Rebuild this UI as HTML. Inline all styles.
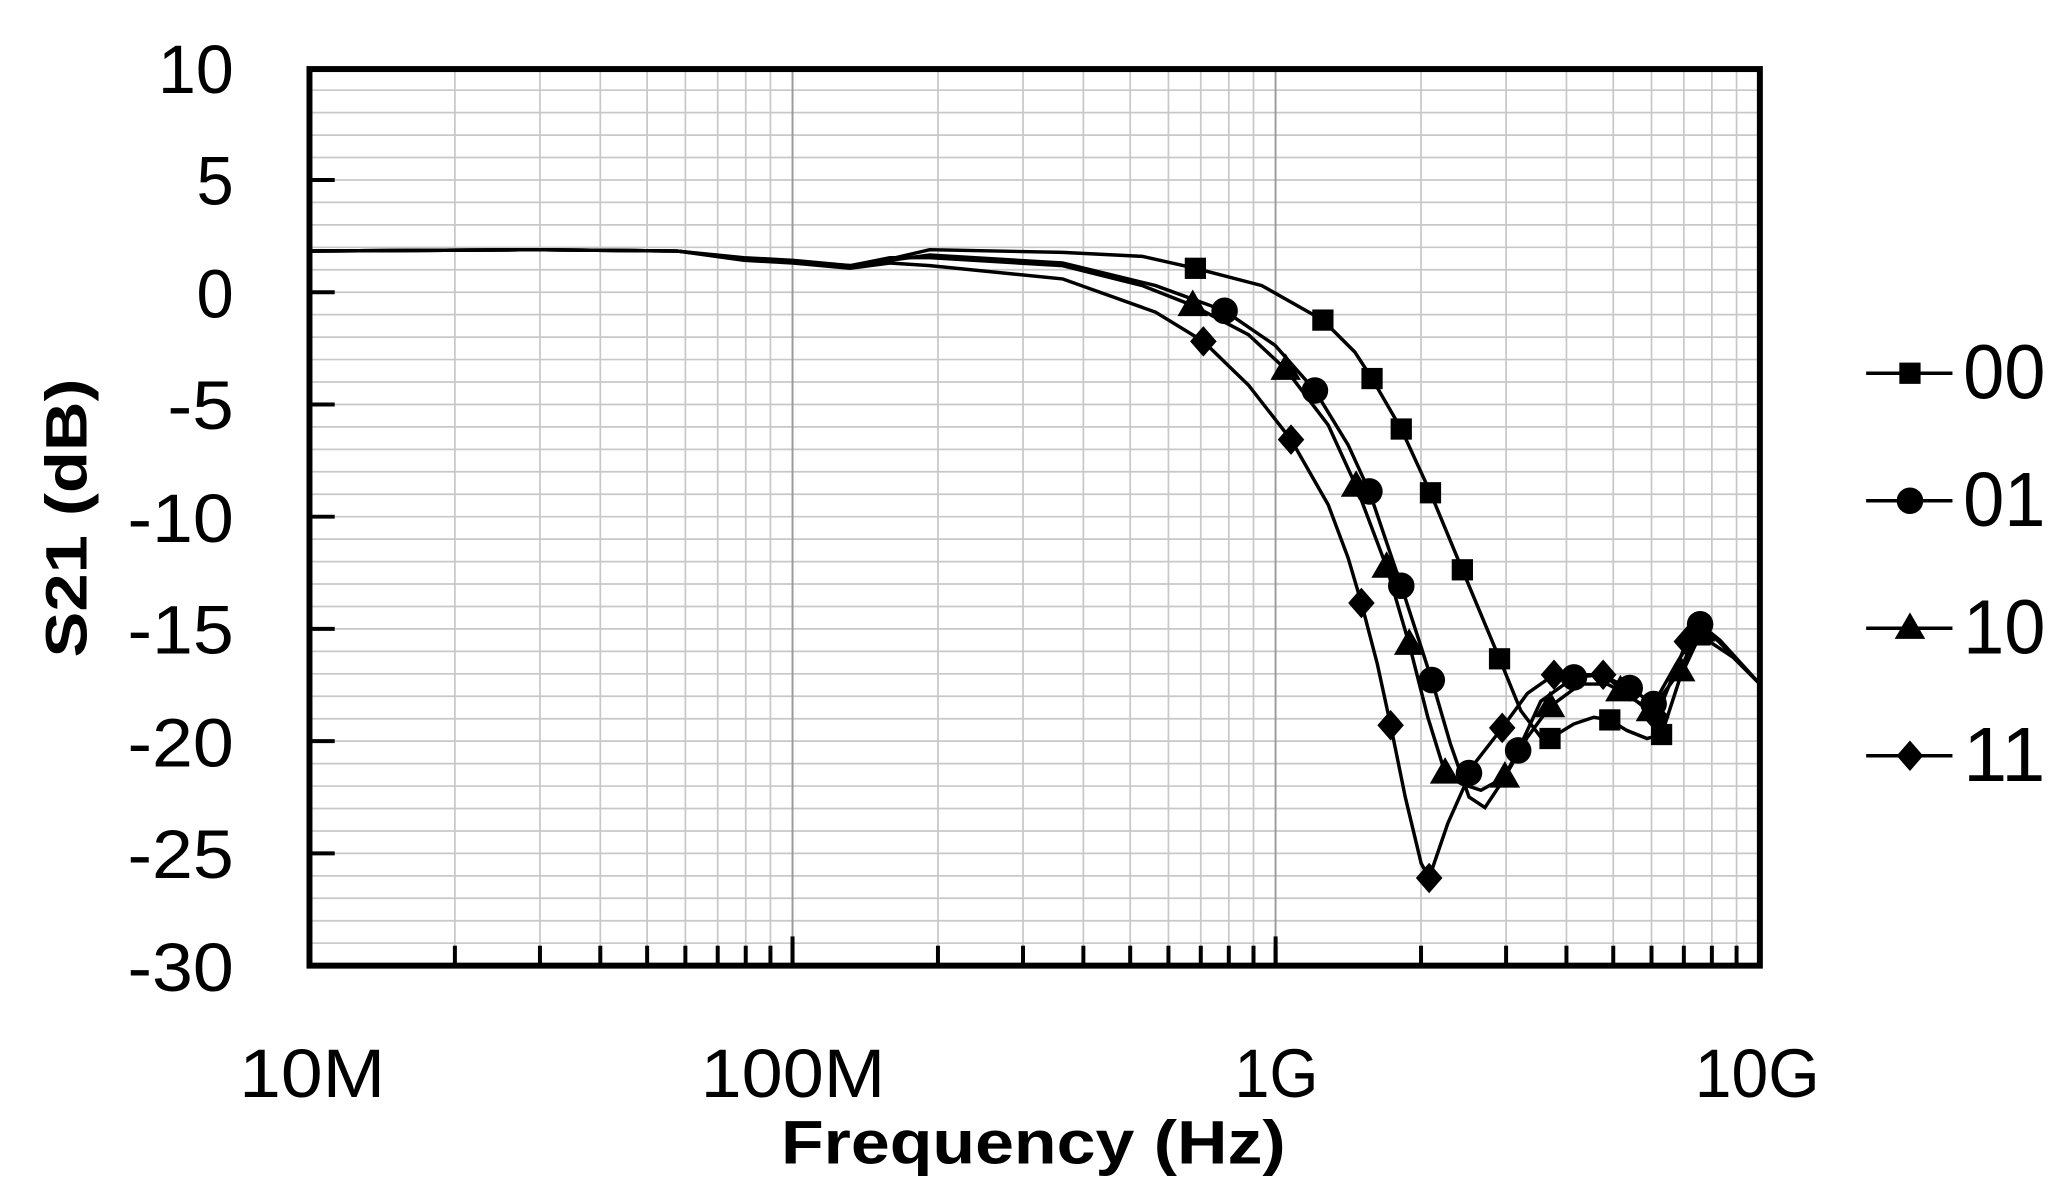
<!DOCTYPE html>
<html><head><meta charset="utf-8"><style>html,body{margin:0;padding:0;background:#fff;}svg{display:block}</style></head>
<body>
<svg width="2072" height="1201" viewBox="0 0 1560 904.2" preserveAspectRatio="none" xmlns="http://www.w3.org/2000/svg" font-family="Liberation Sans, sans-serif">
<defs>
<g id="sq"><rect x="-8" y="-8" width="16" height="16" fill="#000"/></g>
<g id="ci"><circle r="10" fill="#000"/></g>
<g id="tr"><polygon points="0,-12 11.5,8 -11.5,8" fill="#000"/></g>
<g id="di"><polygon points="0,-11.5 10,0 0,11.5 -10,0" fill="#000"/></g>
</defs>
<g id="grid" stroke="#c8c8c8" stroke-width="1.3"></g>
<g id="ticks" stroke="#000" stroke-width="3"></g>
<rect x="233" y="52" width="1092" height="675" fill="none" stroke="#000" stroke-width="4.5"/>
<g font-size="52" text-anchor="end" fill="#000" lengthAdjust="spacingAndGlyphs">
<text x="176" y="70" textLength="57" lengthAdjust="spacingAndGlyphs">10</text>
<text x="176" y="154" textLength="28" lengthAdjust="spacingAndGlyphs">5</text>
<text x="176" y="239" textLength="28" lengthAdjust="spacingAndGlyphs">0</text>
<text x="176" y="323" textLength="50" lengthAdjust="spacingAndGlyphs">-5</text>
<text x="176" y="408" textLength="80" lengthAdjust="spacingAndGlyphs">-10</text>
<text x="176" y="492" textLength="80" lengthAdjust="spacingAndGlyphs">-15</text>
<text x="176" y="577" textLength="80" lengthAdjust="spacingAndGlyphs">-20</text>
<text x="176" y="661" textLength="80" lengthAdjust="spacingAndGlyphs">-25</text>
<text x="176" y="746" textLength="80" lengthAdjust="spacingAndGlyphs">-30</text>
</g>
<g font-size="52" text-anchor="middle" fill="#000">
<text x="235" y="826" textLength="110" lengthAdjust="spacingAndGlyphs">10M</text>
<text x="597" y="826" textLength="139" lengthAdjust="spacingAndGlyphs">100M</text>
<text x="961" y="826" textLength="63" lengthAdjust="spacingAndGlyphs">1G</text>
<text x="1323" y="826" textLength="94" lengthAdjust="spacingAndGlyphs">10G</text>
</g>
<text x="778" y="876" font-size="46" font-weight="bold" text-anchor="middle" textLength="380" lengthAdjust="spacingAndGlyphs">Frequency (Hz)</text>
<text transform="translate(65,390) rotate(-90)" font-size="44" font-weight="bold" text-anchor="middle" textLength="210" lengthAdjust="spacingAndGlyphs">S21 (dB)</text>
<g fill="none" stroke="#000" stroke-width="2.6">
<polyline points="233,189 400,188 510,189 560,194 597,196 640,200 670,195 700,188 800,190 860,193 900,202 950,215 996,241 1020,265 1033,285 1055,323 1077,371 1101,429 1129,496 1145,535 1160,555 1167,556 1185,545 1200,540 1212,542 1225,550 1240,556 1251,553 1265,510 1280,478 1290,485 1305,495 1325,515"/>
<polyline points="233,189 400,188 510,189 560,195 597,197 640,201 670,196 700,192 800,198 870,215 922,234 960,260 990,294 1015,335 1031,370 1055,441 1078,512 1092,560 1106,600 1118,608 1130,590 1143,565 1160,528 1185,510 1205,508 1227,518 1245,530 1262,500 1280,470 1295,482 1325,515"/>
<polyline points="233,189 400,188 510,189 560,195 597,197 640,200 670,194 700,194 800,200 860,215 898,230 940,252 968,278 1000,320 1021,366 1044,427 1061,485 1075,540 1088,582 1100,590 1115,595 1133,585 1150,555 1167,532 1190,515 1210,515 1220,520 1243,535 1265,505 1280,470 1295,484 1325,515"/>
<polyline points="233,189 400,188 510,189 560,196 597,198 640,202 670,198 700,200 800,210 870,235 906,257 940,290 972,331 1000,380 1015,420 1025,454 1037,500 1047,546 1058,600 1070,650 1076,661 1090,620 1110,575 1131,548 1150,522 1170,508 1190,508 1207,508 1225,522 1247,540 1270,483 1280,472"/>
</g>
<g id="m"></g>
<g stroke="#000" stroke-width="2.6">
<line x1="1405" y1="281" x2="1470" y2="281"/><line x1="1405" y1="377" x2="1470" y2="377"/>
<line x1="1405" y1="473" x2="1470" y2="473"/><line x1="1405" y1="569" x2="1470" y2="569"/>
</g>
<use href="#sq" x="1438" y="281"/><use href="#ci" x="1438" y="377"/><use href="#tr" x="1438" y="473"/><use href="#di" x="1438" y="569"/>
<g font-size="58" fill="#000">
<text x="1478" y="300" textLength="62" lengthAdjust="spacingAndGlyphs">00</text>
<text x="1478" y="396" textLength="62" lengthAdjust="spacingAndGlyphs">01</text>
<text x="1478" y="492" textLength="62" lengthAdjust="spacingAndGlyphs">10</text>
<text x="1478" y="588" textLength="62" lengthAdjust="spacingAndGlyphs">11</text>
</g>
<script>
var ns="http://www.w3.org/2000/svg";
function el(p,t,a){var e=document.createElementNS(ns,t);for(var k in a)e.setAttribute(k,a[k]);p.appendChild(e);return e;}
var g=document.getElementById("grid"),tk=document.getElementById("ticks");
for(var d=-30;d<=10;d++){var y=220-16.9*d;el(g,"line",{x1:233,x2:1325,y1:y,y2:y});}
for(var dec=0;dec<3;dec++){for(var i=1;i<=10;i++){var x=233+363.7*(dec+Math.log10(i));if(x>1325)continue;
 var ln=el(g,"line",{x1:x,x2:x,y1:52,y2:727});if(i==1||i==10)ln.setAttribute("stroke","#999");
 if(!(dec==0&&i==1)&&x<1324){el(tk,"line",{x1:x,x2:x,y1:727,y2:(i==10?705:712)});}}}
for(var d=5;d>=-25;d-=5){var y=220-16.9*d;el(tk,"line",{x1:233,x2:252,y1:y,y2:y});}
var m=document.getElementById("m");
function add(id,pts){pts.forEach(function(p){el(m,"use",{href:"#"+id,x:p[0],y:p[1]});});}
add("sq",[[900,202],[996,241],[1033,285],[1055,323],[1077,371],[1101,429],[1129,496],[1167,556],[1212,542],[1251,553],[1280,478]]);
add("ci",[[922,234],[990,294],[1031,370],[1055,441],[1078,512],[1106,582],[1143,565],[1185,510],[1227,518],[1245,530],[1280,470]]);
add("tr",[[898,230],[968,278],[1021,366],[1044,427],[1061,485],[1088,582],[1133,585],[1167,532],[1220,520],[1243,535],[1265,505],[1280,475]]);
add("di",[[906,257],[972,331],[1025,454],[1047,546],[1076,661],[1131,548],[1170,508],[1207,508],[1247,540],[1270,483]]);
</script>
</svg>
</body></html>
